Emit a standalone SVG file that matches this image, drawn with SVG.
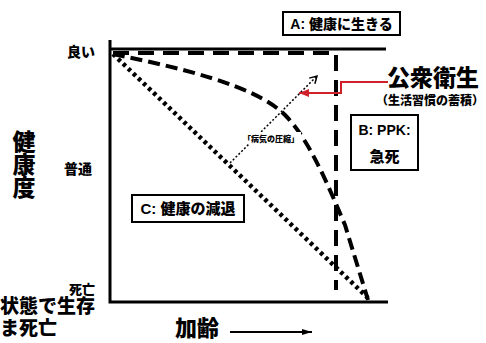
<svg xmlns="http://www.w3.org/2000/svg" width="486" height="343" viewBox="0 0 486 343">
<defs>
<style>
.t{font-family:"Liberation Sans","Noto Sans CJK JP",sans-serif;font-weight:900;fill:#000}
.box{fill:#fff;stroke:#000;stroke-width:2}
.axis{fill:none;stroke:#000;stroke-width:3}
</style>
<marker id="open" markerWidth="10" markerHeight="10" refX="8" refY="5" orient="auto" markerUnits="userSpaceOnUse">
<path d="M1,1 L8,5 L1,9" fill="none" stroke="#000" stroke-width="1.5"/>
</marker>
<marker id="red" markerWidth="12" markerHeight="10" refX="10" refY="5" orient="auto" markerUnits="userSpaceOnUse">
<path d="M0,1 L10,5 L0,9 Z" fill="#d0202a"/>
</marker>
<marker id="blk" markerWidth="12" markerHeight="8" refX="10" refY="4" orient="auto" markerUnits="userSpaceOnUse">
<path d="M0,1 L10,4 L0,7 Z" fill="#000"/>
</marker>
</defs>
<rect width="486" height="343" fill="#fff"/>

<g id="axes">
<path class="axis" d="M110,40 V302 H388"/>
<path class="axis" d="M110,49 H386"/>
</g>

<g id="connectors">
<path d="M113,53 H336 V290" fill="none" stroke="#000" stroke-width="4" stroke-dasharray="16 9"/>
<path d="M113,54 C180,68 255,85 285,115 C310,140 330,190 345,225 L368,300" fill="none" stroke="#000" stroke-width="4" stroke-dasharray="12 6"/>
<path d="M113,54 L368,298" fill="none" stroke="#000" stroke-width="4.5" stroke-dasharray="3.5 3.5"/>
<path d="M230,163 L317,76" fill="none" stroke="#000" stroke-width="1.5" stroke-dasharray="2 2" marker-end="url(#open)"/>
<path d="M388,82 H341 V93 H299" fill="none" stroke="#d0202a" stroke-width="2" marker-end="url(#red)"/>
<path d="M230,332 H312" fill="none" stroke="#000" stroke-width="2" marker-end="url(#blk)"/>
</g>

<g id="label-compress">
<rect x="241" y="132" width="60" height="12" fill="#fff"/>
<text class="t" x="271" y="142" font-size="8" text-anchor="middle" font-weight="bold">「病気の圧縮」</text>
</g>

<g id="node-A">
<rect class="box" x="283" y="12" width="117" height="23"/>
<text class="t" x="341.5" y="29" font-size="14" text-anchor="middle">A: 健康に生きる</text>
</g>

<g id="node-B">
<rect class="box" x="351" y="115" width="67" height="55"/>
<text class="t" x="384.5" y="135" font-size="14" text-anchor="middle">B: PPK:</text>
<text class="t" x="384.5" y="162" font-size="15" text-anchor="middle">急死</text>
</g>

<g id="node-C">
<rect class="box" x="132" y="195" width="112" height="27"/>
<text class="t" x="188" y="214" font-size="15" text-anchor="middle">C: 健康の減退</text>
</g>

<g id="public-health">
<text class="t" x="387" y="86" font-size="23">公衆衛生</text>
<text class="t" x="376" y="105" font-size="12" font-weight="normal" fill="#333">（生活習慣の蓄積）</text>
</g>

<g id="y-labels">
<text class="t" x="95" y="57" font-size="14" text-anchor="end">良い</text>
<text class="t" x="92" y="174" font-size="14" text-anchor="end">普通</text>
<text class="t" x="95" y="294" font-size="13" text-anchor="end">死亡</text>
<text class="t" x="22" y="130" font-size="23" style="writing-mode:vertical-rl">健康度</text>
<text class="t" x="0" y="313" font-size="19">状態で生存</text>
<text class="t" x="0" y="335" font-size="19">ま死亡</text>
</g>

<g id="x-label">
<text class="t" x="175" y="336" font-size="22">加齢</text>
</g>
</svg>
